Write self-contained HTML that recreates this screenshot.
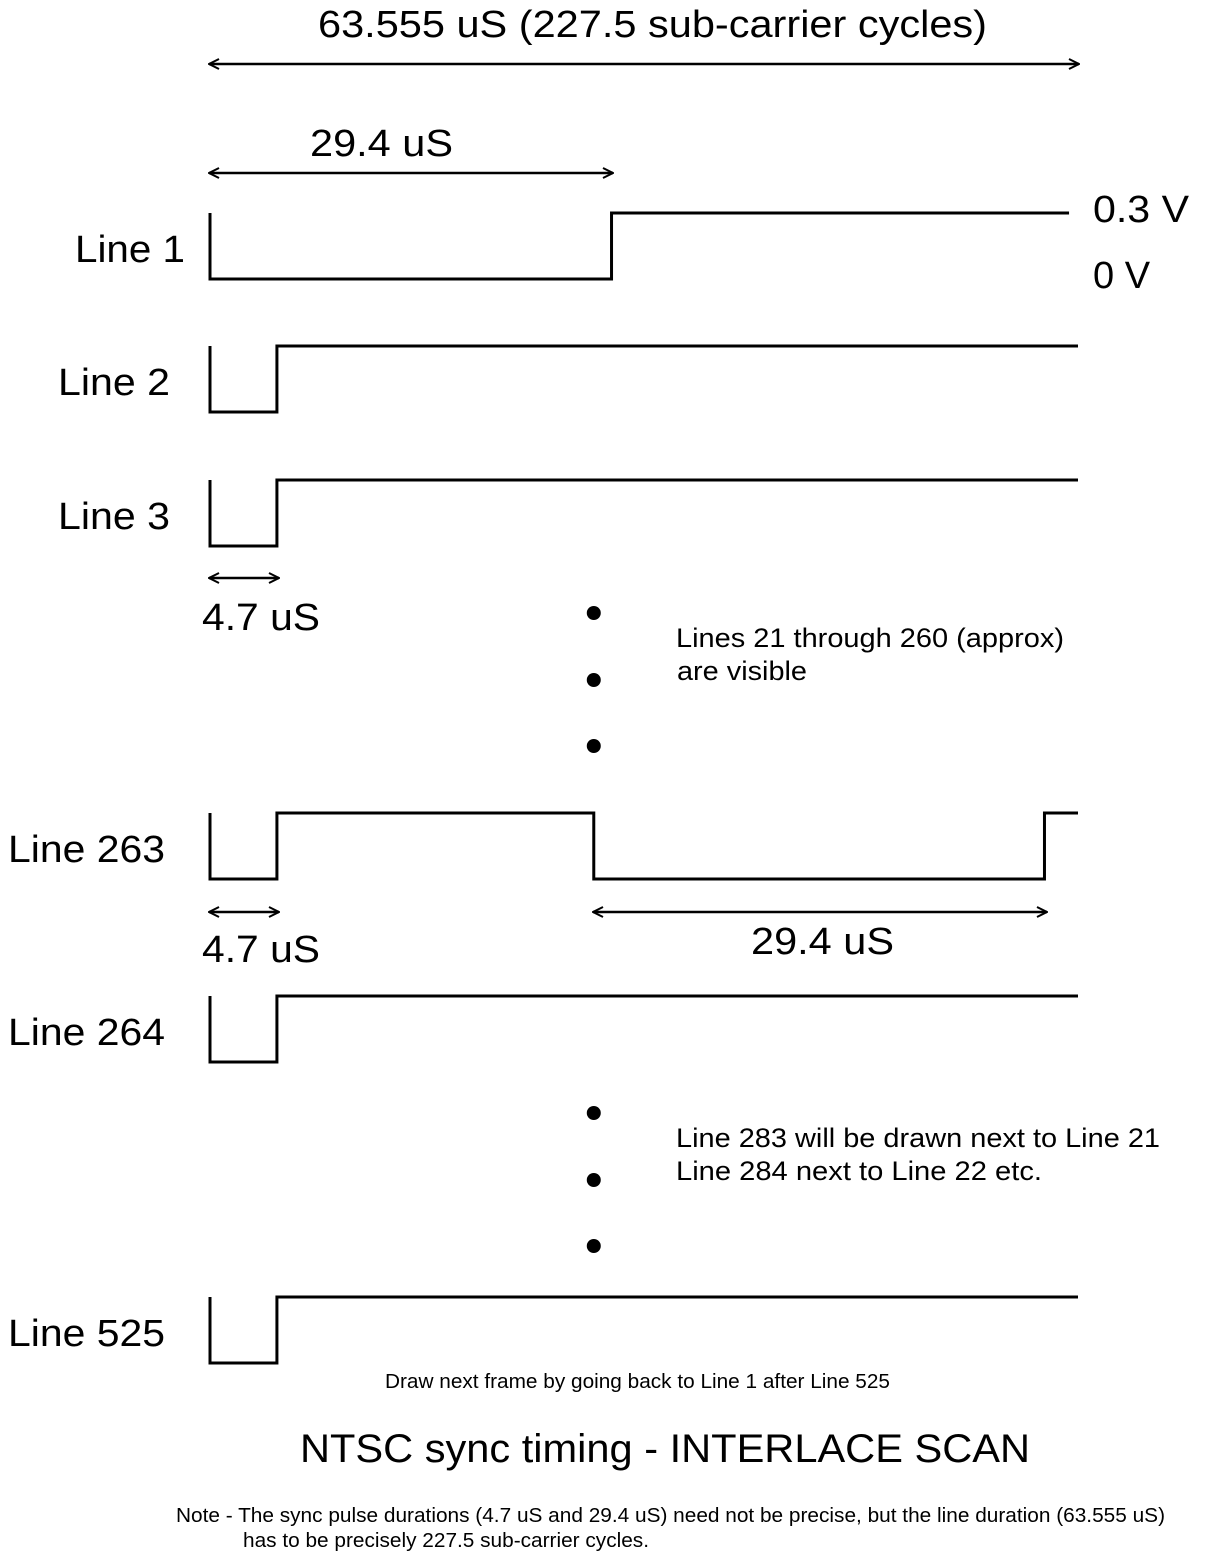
<!DOCTYPE html>
<html><head><meta charset="utf-8"><style>
html,body{margin:0;padding:0;background:#fff}
svg{display:block}
text{font-family:"Liberation Sans",sans-serif;fill:#000}
</style></head><body>
<svg id="chart" width="1206" height="1561" viewBox="0 0 1206 1561" xmlns="http://www.w3.org/2000/svg">
<defs>
<marker id="ah" viewBox="0 0 12 12" refX="11" refY="6" markerWidth="12" markerHeight="12" markerUnits="userSpaceOnUse" orient="auto-start-reverse">
<path d="M1,1 L11,6 L1,11" fill="none" stroke="#000" stroke-width="2"/>
</marker>
</defs>
<g id="texts">
<text x="318" y="37" font-size="38" textLength="669" lengthAdjust="spacingAndGlyphs">63.555 uS (227.5 sub-carrier cycles)</text>
<line x1="209" y1="64" x2="1079" y2="64" stroke="#000" stroke-width="2.5" marker-start="url(#ah)" marker-end="url(#ah)"/>
<text x="310" y="156" font-size="38" textLength="143" lengthAdjust="spacingAndGlyphs">29.4 uS</text>
<line x1="209" y1="173" x2="613" y2="173" stroke="#000" stroke-width="2.5" marker-start="url(#ah)" marker-end="url(#ah)"/>
<text x="1093" y="222" font-size="38" textLength="96" lengthAdjust="spacingAndGlyphs">0.3 V</text>
<text x="1093" y="288" font-size="38">0 V</text>
<line x1="209" y1="578" x2="279" y2="578" stroke="#000" stroke-width="2.5" marker-start="url(#ah)" marker-end="url(#ah)"/>
<text x="202" y="630" font-size="38" textLength="118" lengthAdjust="spacingAndGlyphs">4.7 uS</text>
<text x="676" y="647" font-size="27" textLength="388" lengthAdjust="spacingAndGlyphs">Lines 21 through 260 (approx)</text>
<text x="677" y="680" font-size="27" textLength="130" lengthAdjust="spacingAndGlyphs">are visible</text>
<line x1="209" y1="912" x2="279" y2="912" stroke="#000" stroke-width="2.5" marker-start="url(#ah)" marker-end="url(#ah)"/>
<text x="202" y="962" font-size="38" textLength="118" lengthAdjust="spacingAndGlyphs">4.7 uS</text>
<line x1="593" y1="912" x2="1047" y2="912" stroke="#000" stroke-width="2.5" marker-start="url(#ah)" marker-end="url(#ah)"/>
<text x="751" y="954" font-size="38" textLength="143" lengthAdjust="spacingAndGlyphs">29.4 uS</text>
<text x="676" y="1147" font-size="27" textLength="484" lengthAdjust="spacingAndGlyphs">Line 283 will be drawn next to Line 21</text>
<text x="676" y="1180" font-size="27" textLength="366" lengthAdjust="spacingAndGlyphs">Line 284 next to Line 22 etc.</text>
<text x="385" y="1388" font-size="20" textLength="505" lengthAdjust="spacingAndGlyphs">Draw next frame by going back to Line 1 after Line 525</text>
<text x="300" y="1462" font-size="40" textLength="730" lengthAdjust="spacingAndGlyphs">NTSC sync timing - INTERLACE SCAN</text>
<text x="176" y="1522" font-size="20" textLength="989" lengthAdjust="spacingAndGlyphs">Note - The sync pulse durations (4.7 uS and 29.4 uS) need not be precise, but the line duration (63.555 uS)</text>
<text x="243" y="1547" font-size="20" textLength="406" lengthAdjust="spacingAndGlyphs">has to be precisely 227.5 sub-carrier cycles.</text>
</g>
<g id="marks"></g>
</svg>
<script>
// Data (time in microseconds)
const lineNames = ["Line 1","Line 2","Line 3","Line 263","Line 264","Line 525"];
const lineRows = [0,1,2,3,4,5];
// transitions: each line starts low at t=0, toggles at these times
const lineToggles = [[29.4],[4.9],[4.9],[4.9,28.1,61.1],[4.9],[4.9]];
const lineEnds = [62.9,63.555,63.555,63.555,63.555,63.555];
const dotGroups = [0,1];
const dotIndex = [0,1,2];
const dotTime = 28.1;

const X0=210, PXUS=868/63.555;
const xS = t => X0 + t*PXUS;
const rowHigh = [213,346,480,813,996,1297];
const labelLeft = [75,58,58,8,8,8];
const labelWidth = [110,112,112,157,157,157];
const LOW = 66;
const dotY = [[613,680,746],[1113,1180,1246]];

const g=document.getElementById('marks');
const NS='http://www.w3.org/2000/svg';
lineRows.forEach(i=>{
  const hi=rowHigh[i], lo=hi+LOW;
  let d=`M${X0},${hi} L${X0},${lo}`;
  let level=lo;
  lineToggles[i].forEach(t=>{
    const x=xS(t);
    d+=` L${x},${level}`;
    level = level===lo?hi:lo;
    d+=` L${x},${level}`;
  });
  d+=` L${xS(lineEnds[i])},${level}`;
  const p=document.createElementNS(NS,'path');
  p.setAttribute('d',d);
  p.setAttribute('fill','none');
  p.setAttribute('stroke','#000');
  p.setAttribute('stroke-width','3');
  
  
  g.appendChild(p);
  const tx=document.createElementNS(NS,'text');
  tx.setAttribute('x',labelLeft[i]);
  tx.setAttribute('y',hi+49);
  tx.setAttribute('font-size','38');
  tx.setAttribute('textLength',labelWidth[i]);
  tx.setAttribute('lengthAdjust','spacingAndGlyphs');
  tx.textContent=lineNames[i];
  
  
  g.appendChild(tx);
});
dotGroups.forEach(gi=>{
  dotIndex.forEach(k=>{
    const c=document.createElementNS(NS,'circle');
    c.setAttribute('cx',xS(dotTime));
    c.setAttribute('cy',dotY[gi][k]);
    c.setAttribute('r','7');
    c.setAttribute('fill','#000');
    
    
    g.appendChild(c);
  });
});
</script>
</body></html>
